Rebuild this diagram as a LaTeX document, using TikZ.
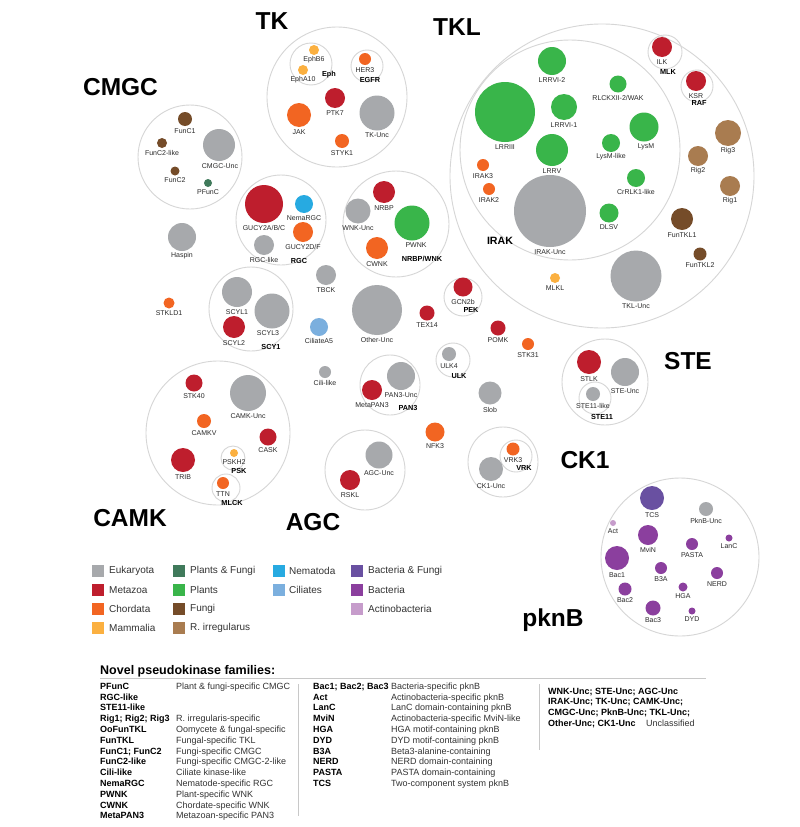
\documentclass[tikz,border=0pt]{standalone}
\usepackage{fontspec}
\setmainfont{Liberation Sans}
\definecolor{euk}{HTML}{A7A9AC}
\definecolor{meta}{HTML}{BE1E2D}
\definecolor{chord}{HTML}{F26522}
\definecolor{mamm}{HTML}{FBB040}
\definecolor{pf}{HTML}{407A5B}
\definecolor{plant}{HTML}{39B54A}
\definecolor{fungi}{HTML}{754C29}
\definecolor{rirr}{HTML}{A97C50}
\definecolor{nema}{HTML}{27AAE1}
\definecolor{cil}{HTML}{7BAFDE}
\definecolor{bf}{HTML}{6950A1}
\definecolor{bact}{HTML}{8B3F9E}
\definecolor{actino}{HTML}{C69CCB}
\definecolor{ring}{HTML}{D6D6D6}
\definecolor{lblc}{HTML}{2A2A2A}
\definecolor{desc}{HTML}{333333}
\definecolor{rulec}{HTML}{C8C8C8}
\newcommand\kin[7][0]{%
  \node[kc,fill=#6,minimum size=#5*2pt] (#2) at (#3,#4) {};
  \node[lbl] (#2l) at ({#3+(#1)},{#4+#5+5}) {#7};}
\newcommand\grp[4]{\node[gc,minimum size=#4*2pt] (#1) at (#2,#3) {};}
\begin{document}
\begin{tikzpicture}[x=1pt,y=-1pt,
  kc/.style={circle,inner sep=0pt,outer sep=0pt,draw=none},
  gc/.style={circle,inner sep=0pt,outer sep=0pt,draw=ring,line width=0.9pt},
  lbl/.style={inner sep=0pt,font=\fontsize{7}{8}\selectfont,text=lblc},
  sub/.style={inner sep=0pt,font=\bfseries\fontsize{7.3}{8}\selectfont},
  big/.style={inner sep=0pt,anchor=base,font=\bfseries\fontsize{24.5}{28}\selectfont},
  lsq/.style={rectangle,inner sep=0pt,minimum size=12pt},
  ltx/.style={anchor=west,inner sep=0pt,font=\fontsize{10}{12}\selectfont,text=desc},
  tn/.style={anchor=base west,inner sep=0pt,font=\bfseries\fontsize{9}{10}\selectfont},
  td/.style={anchor=base west,inner sep=0pt,font=\fontsize{9}{10}\selectfont,text=desc},
  rule/.style={draw=rulec,line width=0.9pt}]
\useasboundingbox (0,0) rectangle (800,827);
\fill[white] (0,0) rectangle (800,827);

% group circles
\grp{cmgc}{190}{157}{52}
\grp{tk}{337}{97}{70}
\grp{eph}{311}{64}{21}
\grp{egfr}{367}{66}{16}
\grp{tkl}{602}{176}{152}
\grp{irak}{570}{150}{110}
\grp{mlk}{665}{52}{17}
\grp{raf}{697}{86}{16}
\grp{pek}{463}{297}{19}
\grp{rgc}{281}{220}{45}
\grp{nrbpwnk}{396}{224}{53}
\grp{scy1}{251}{309}{42}
\grp{ulk}{453}{360}{17}
\grp{pan3}{390}{385}{30}
\grp{camk}{218}{433}{72}
\grp{psk}{233}{458}{12}
\grp{mlck}{226}{488}{14}
\grp{ste}{605}{382}{43}
\grp{ste11}{595}{398}{16}
\grp{agc}{365}{470}{40}
\grp{ck1}{503}{462}{35}
\grp{vrk}{516}{456}{16}
\grp{pknb}{680}{557}{79}

% CMGC
\kin{func1}{185}{119}{7}{fungi}{FunC1}
\kin{func2l}{162}{143}{5}{fungi}{FunC2-like}
\kin{func2}{175}{171}{4.5}{fungi}{FunC2}
\kin[1]{cmgcu}{219}{145}{16}{euk}{CMGC-Unc}
\kin{pfunc}{208}{183}{4}{pf}{PFunC}
\kin{haspin}{182}{237}{14}{euk}{Haspin}
% TK
\kin{ephb6}{314}{50}{5}{mamm}{EphB6}
\kin{epha10}{303}{70}{5}{mamm}{EphA10}
\kin{her3}{365}{59}{6}{chord}{HER3}
\kin{ptk7}{335}{98}{10}{meta}{PTK7}
\kin{jak}{299}{115}{12}{chord}{JAK}
\kin{styk1}{342}{141}{7}{chord}{STYK1}
\kin{tku}{377}{113}{17.5}{euk}{TK-Unc}
% TKL
\kin{lrrvi2}{552}{61}{14}{plant}{LRRVI-2}
\kin{lrriii}{505}{112}{30}{plant}{LRRIII}
\kin{lrrvi1}{564}{107}{13}{plant}{LRRVI-1}
\kin{lrrv}{552}{150}{16}{plant}{LRRV}
\kin{rlck}{618}{84}{8.5}{plant}{RLCKXII-2/WAK}
\kin[2]{lysm}{644}{127}{14.5}{plant}{LysM}
\kin{lysml}{611}{143}{9}{plant}{LysM-like}
\kin{crrlk}{636}{178}{9}{plant}{CrRLK1-like}
\kin{irakthree}{483}{165}{6}{chord}{IRAK3}
\kin{iraktwo}{489}{189}{6}{chord}{IRAK2}
\kin{iraku}{550}{211}{36}{euk}{IRAK-Unc}
\kin{dlsv}{609}{213}{9.5}{plant}{DLSV}
\kin{ilk}{662}{47}{10}{meta}{ILK}
\kin{ksr}{696}{81}{10}{meta}{KSR}
\kin{rigthree}{728}{133}{13}{rirr}{Rig3}
\kin{rigtwo}{698}{156}{10}{rirr}{Rig2}
\kin{rigone}{730}{186}{10}{rirr}{Rig1}
\kin{funtklone}{682}{219}{11}{fungi}{FunTKL1}
\kin{funtkltwo}{700}{254}{6.5}{fungi}{FunTKL2}
\kin{mlkl}{555}{278}{5}{mamm}{MLKL}
\kin{tklu}{636}{276}{25.5}{euk}{TKL-Unc}
% middle
\kin{gcn2b}{463}{287}{9.5}{meta}{GCN2b}
\kin{gucya}{264}{204}{19}{meta}{GUCY2A/B/C}
\kin{nemargc}{304}{204}{9}{nema}{NemaRGC}
\kin{gucyd}{303}{232}{10}{chord}{GUCY2D/F}
\kin{rgcl}{264}{245}{10}{euk}{RGC-like}
\kin{nrbp}{384}{192}{11}{meta}{NRBP}
\kin{wnku}{358}{211}{12.5}{euk}{WNK-Unc}
\kin[4]{pwnk}{412}{223}{17.5}{plant}{PWNK}
\kin{cwnk}{377}{248}{11}{chord}{CWNK}
\kin{tbck}{326}{275}{10}{euk}{TBCK}
\kin{stkld}{169}{303}{5.5}{chord}{STKLD1}
\kin{scylone}{237}{292}{15}{euk}{SCYL1}
\kin[-4]{scylthree}{272}{311}{17.5}{euk}{SCYL3}
\kin{scyltwo}{234}{327}{11}{meta}{SCYL2}
\kin{ciliatea}{319}{327}{9}{cil}{CiliateA5}
\kin{otheru}{377}{310}{25}{euk}{Other-Unc}
\kin{tex}{427}{313}{7.5}{meta}{TEX14}
\kin{pomk}{498}{328}{7.5}{meta}{POMK}
\kin{stkthirtyone}{528}{344}{6}{chord}{STK31}
\kin{ulkfour}{449}{354}{7}{euk}{ULK4}
\kin{cilil}{325}{372}{6}{euk}{Cili-like}
\kin{panu}{401}{376}{14}{euk}{PAN3-Unc}
\kin{metapan}{372}{390}{10}{meta}{MetaPAN3}
\kin{slob}{490}{393}{11.5}{euk}{Slob}
% CAMK
\kin{stkforty}{194}{383}{8.5}{meta}{STK40}
\kin{camku}{248}{393}{18}{euk}{CAMK-Unc}
\kin{camkv}{204}{421}{7}{chord}{CAMKV}
\kin{cask}{268}{437}{8.5}{meta}{CASK}
\kin{trib}{183}{460}{12}{meta}{TRIB}
\kin{pskh}{234}{453}{4}{mamm}{PSKH2}
\kin{ttn}{223}{483}{6}{chord}{TTN}
% STE, AGC, CK1
\kin{stlk}{589}{362}{12}{meta}{STLK}
\kin{steu}{625}{372}{14}{euk}{STE-Unc}
\kin{stel}{593}{394}{7}{euk}{STE11-like}
\kin{nfk}{435}{432}{9.5}{chord}{NFK3}
\kin{agcu}{379}{455}{13.5}{euk}{AGC-Unc}
\kin{rskl}{350}{480}{10}{meta}{RSKL}
\kin{vrkthree}{513}{449}{6.5}{chord}{VRK3}
\kin{ckoneu}{491}{469}{12}{euk}{CK1-Unc}
% pknB
\kin{tcs}{652}{498}{12}{bf}{TCS}
\kin{pknbu}{706}{509}{7}{euk}{PknB-Unc}
\kin{act}{613}{523}{3}{actino}{Act}
\kin{mvin}{648}{535}{10}{bact}{MviN}
\kin{lanc}{729}{538}{3.5}{bact}{LanC}
\kin{pasta}{692}{544}{6}{bact}{PASTA}
\kin{bacone}{617}{558}{12}{bact}{Bac1}
\kin{bthreea}{661}{568}{6}{bact}{B3A}
\kin{nerd}{717}{573}{6}{bact}{NERD}
\kin{hga}{683}{587}{4.5}{bact}{HGA}
\kin{bactwo}{625}{589}{6.5}{bact}{Bac2}
\kin{bacthree}{653}{608}{7.5}{bact}{Bac3}
\kin{dyd}{692}{611}{3.5}{bact}{DYD}

% subfamily labels
\node[sub] (ephL) at (329,75) {Eph};
\node[sub] (egfrL) at (370,80) {EGFR};
\node[sub] (mlkL) at (668,72) {MLK};
\node[sub] (rafL) at (699,103) {RAF};
\node[sub] (pekL) at (471,310) {PEK};
\node[sub] (rgcL) at (299,261) {RGC};
\node[sub] (nrbpL) at (422,259) {NRBP/WNK};
\node[sub] (scyL) at (271,347) {SCY1};
\node[sub] (ulkL) at (459,376) {ULK};
\node[sub] (panL) at (408,408) {PAN3};
\node[sub] (pskL) at (239,471) {PSK};
\node[sub] (mlckL) at (232,503) {MLCK};
\node[sub] (steL) at (602,417) {STE11};
\node[sub] (vrkL) at (524,468) {VRK};
\node[inner sep=0pt,font=\bfseries\fontsize{10.6}{12}\selectfont] (irakL) at (500,241) {IRAK};

% group labels
\node[big] (tkT) at (272,29) {TK};
\node[big] (tklT) at (457,35) {TKL};
\node[big] (cmgcT) at (120.5,95) {CMGC};
\node[big] (camkT) at (130,526) {CAMK};
\node[big] (agcT) at (313,530) {AGC};
\node[big] (steT) at (688,369) {STE};
\node[big] (ckT) at (585,468) {CK1};
\node[big] (pknbT) at (553,626) {pknB};

% legend
\node[lsq,fill=euk] (q1) at (98,571) {};   \node[ltx] (l1) at (109,571) {Eukaryota};
\node[lsq,fill=meta] (q2) at (98,590) {};  \node[ltx] (l2) at (109,590) {Metazoa};
\node[lsq,fill=chord] (q3) at (98,609) {}; \node[ltx] (l3) at (109,609) {Chordata};
\node[lsq,fill=mamm] (q4) at (98,628) {};  \node[ltx] (l4) at (109,628) {Mammalia};
\node[lsq,fill=pf] (q5) at (179,571) {};   \node[ltx] (l5) at (190,571) {Plants \& Fungi};
\node[lsq,fill=plant] (q6) at (179,590) {};\node[ltx] (l6) at (190,590) {Plants};
\node[lsq,fill=fungi] (q7) at (179,609) {};\node[ltx] (l7) at (190,609) {Fungi};
\node[lsq,fill=rirr] (q8) at (179,628) {}; \node[ltx] (l8) at (190,628) {R. irregularus};
\node[lsq,fill=nema] (q9) at (279,571) {}; \node[ltx] (l9) at (289,571) {Nematoda};
\node[lsq,fill=cil] (q10) at (279,590) {}; \node[ltx] (l10) at (289,590) {Ciliates};
\node[lsq,fill=bf] (q11) at (357,571) {};  \node[ltx] (l11) at (368,571) {Bacteria \& Fungi};
\node[lsq,fill=bact] (q12) at (357,590) {};\node[ltx] (l12) at (368,590) {Bacteria};
\node[lsq,fill=actino] (q13) at (357,609) {};\node[ltx] (l13) at (368,609) {Actinobacteria};

% table
\node[anchor=base west,inner sep=0pt,font=\bfseries\fontsize{12.5}{14}\selectfont] (title) at (100,674.5) {Novel pseudokinase families:};
\coordinate (r1) at (100,678.5); \coordinate (r2) at (706,678.5);
\draw[rule] (r1) -- (r2);
\coordinate (d1a) at (298,684); \coordinate (d1b) at (298,816);
\draw[rule] (d1a) -- (d1b);
\coordinate (d2a) at (539,684); \coordinate (d2b) at (539,750);
\draw[rule] (d2a) -- (d2b);

\node[tn] (a1) at (100,689.3) {PFunC};            \node[td] (b1) at (176,689.3) {Plant \& fungi-specific CMGC};
\node[tn] (a2) at (100,700.1) {RGC-like};
\node[tn] (a3) at (100,710.9) {STE11-like};
\node[tn] (a4) at (100,721.7) {Rig1; Rig2; Rig3}; \node[td] (b4) at (176,721.7) {R. irregularis-specific};
\node[tn] (a5) at (100,732.5) {OoFunTKL};         \node[td] (b5) at (176,732.5) {Oomycete \& fungal-specific};
\node[tn] (a6) at (100,743.3) {FunTKL};           \node[td] (b6) at (176,743.3) {Fungal-specific TKL};
\node[tn] (a7) at (100,754.1) {FunC1; FunC2};     \node[td] (b7) at (176,754.1) {Fungi-specific CMGC};
\node[tn] (a8) at (100,764.9) {FunC2-like};       \node[td] (b8) at (176,764.9) {Fungi-specific CMGC-2-like};
\node[tn] (a9) at (100,775.7) {Cili-like};        \node[td] (b9) at (176,775.7) {Ciliate kinase-like};
\node[tn] (a10) at (100,786.5) {NemaRGC};         \node[td] (b10) at (176,786.5) {Nematode-specific RGC};
\node[tn] (a11) at (100,797.3) {PWNK};            \node[td] (b11) at (176,797.3) {Plant-specific WNK};
\node[tn] (a12) at (100,808.1) {CWNK};            \node[td] (b12) at (176,808.1) {Chordate-specific WNK};
\node[tn] (a13) at (100,818.9) {MetaPAN3};        \node[td] (b13) at (176,818.9) {Metazoan-specific PAN3};

\node[tn] (c1) at (313,689.3) {Bac1; Bac2; Bac3}; \node[td] (e1) at (391,689.3) {Bacteria-specific pknB};
\node[tn] (c2) at (313,700.1) {Act};              \node[td] (e2) at (391,700.1) {Actinobacteria-specific pknB};
\node[tn] (c3) at (313,710.9) {LanC};             \node[td] (e3) at (391,710.9) {LanC domain-containing pknB};
\node[tn] (c4) at (313,721.7) {MviN};             \node[td] (e4) at (391,721.7) {Actinobacteria-specific MviN-like};
\node[tn] (c5) at (313,732.5) {HGA};              \node[td] (e5) at (391,732.5) {HGA motif-containing pknB};
\node[tn] (c6) at (313,743.3) {DYD};              \node[td] (e6) at (391,743.3) {DYD motif-containing pknB};
\node[tn] (c7) at (313,754.1) {B3A};              \node[td] (e7) at (391,754.1) {Beta3-alanine-containing};
\node[tn] (c8) at (313,764.9) {NERD};             \node[td] (e8) at (391,764.9) {NERD domain-containing};
\node[tn] (c9) at (313,775.7) {PASTA};            \node[td] (e9) at (391,775.7) {PASTA domain-containing};
\node[tn] (c10) at (313,786.5) {TCS};             \node[td] (e10) at (391,786.5) {Two-component system pknB};

\node[tn] (f1) at (548,694) {WNK-Unc; STE-Unc; AGC-Unc};
\node[tn] (f2) at (548,704.7) {IRAK-Unc; TK-Unc; CAMK-Unc;};
\node[tn] (f3) at (548,715.4) {CMGC-Unc; PknB-Unc; TKL-Unc;};
\node[tn] (f4) at (548,726.1) {Other-Unc; CK1-Unc};
\node[td] (g4) at (646,726.1) {Unclassified};
\end{tikzpicture}
\end{document}
